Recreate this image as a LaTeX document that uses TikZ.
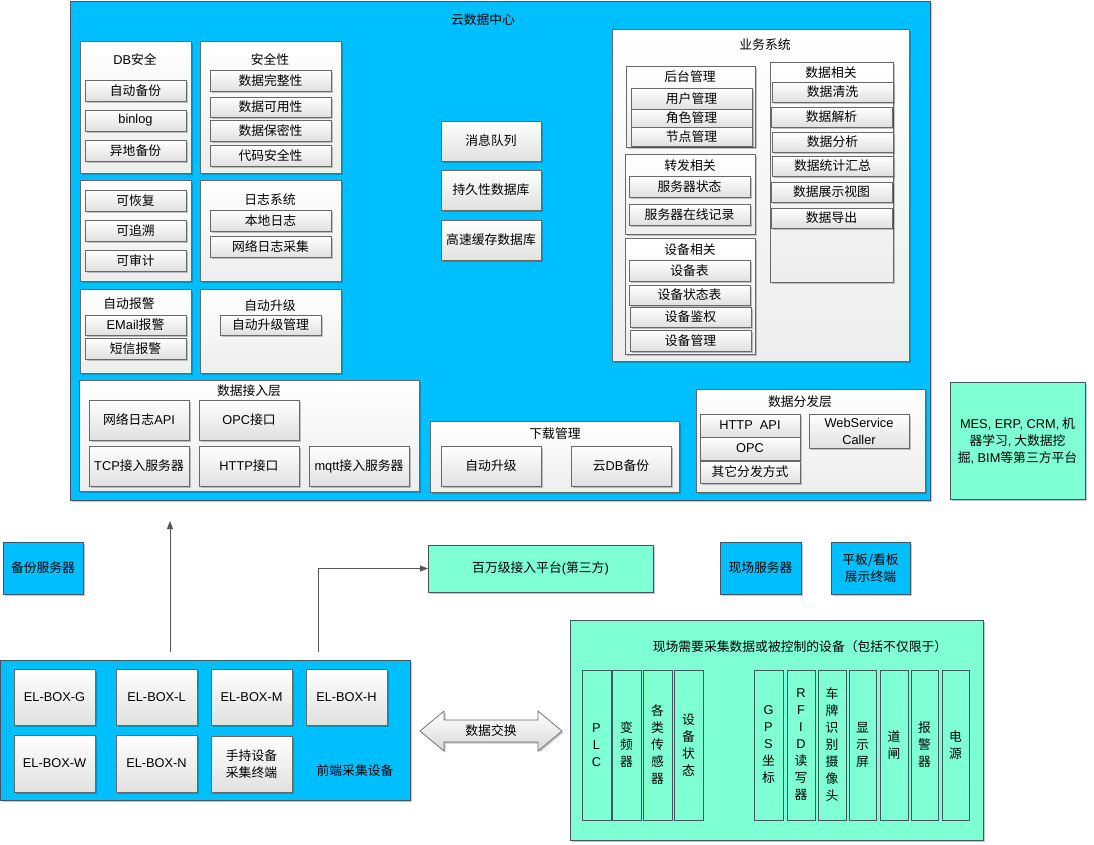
\documentclass[tikz,border=0pt]{standalone}
\usepackage{fontspec}
\setmainfont{Noto Sans CJK SC}
\newfontfamily\lat{Liberation Sans}
\usetikzlibrary{arrows.meta,shadows}
\definecolor{cloudblue}{RGB}{0,191,255}
\definecolor{aqua}{RGB}{127,255,212}
\definecolor{edge}{RGB}{65,85,100}
\definecolor{boxedge}{RGB}{105,105,105}
\definecolor{arrowgray}{RGB}{85,85,85}
\newcommand\bx[7][]{\node[#1, minimum width={(#5)-(#3)}, minimum height={(#6)-(#4)}] (#2) at ({((#3)+(#5))/2},{((#4)+(#6))/2}) {#7};}
\begin{document}
\begin{tikzpicture}[x=1pt,y=-1pt,
  font=\fontsize{12.8}{17}\selectfont,
  every node/.style={inner sep=0pt, outer sep=0pt, align=center},
  castshadow/.style={drop shadow={shadow xshift=1.5pt,shadow yshift=-1.5pt,opacity=0.22,fill=black}},
  cloudmain/.style={draw=edge, fill=cloudblue, line width=0.8pt, castshadow},
  cloudbox/.style={draw=edge, fill=cloudblue, line width=0.8pt, castshadow},
  panel/.style={draw=boxedge, top color=white, bottom color=black!7, line width=0.7pt, castshadow},
  item/.style={draw=boxedge, top color=white, bottom color=black!12, line width=0.7pt, castshadow},
  aquabox/.style={draw=edge, fill=aqua, line width=0.8pt, castshadow},
  devcol/.style={draw=edge, fill=aqua, line width=0.7pt},
  latin/.style={font={\fontsize{12.8}{17}\lat}},
  conn/.style={draw=arrowgray, line width=0.8pt, -{Triangle[length=8pt,width=6pt]}}]
\fill[white] (0,0) rectangle (1094,844);
\useasboundingbox (0,0) rectangle (1094,844);

% cloud data centre
\bx[cloudmain]{cloud}{70}{1}{930}{500}{}
\node (cloudt) at (483,20) {云数据中心};

\bx[panel]{dbsec}{80}{41}{191}{173}{}
\node (dbsect) at (135,60) {{\lat DB}安全};
\bx[item]{bak}{85}{80}{186}{101}{自动备份}
\bx[item,latin]{binlog}{85}{110}{186}{131}{binlog}
\bx[item]{remote}{85}{140}{186}{161}{异地备份}

\bx[panel]{secp}{200}{41}{341}{173}{}
\node (secpt) at (270,60) {安全性};
\bx[item]{s1}{210}{70}{331}{91}{数据完整性}
\bx[item]{s2}{210}{97}{331}{117}{数据可用性}
\bx[item]{s3}{210}{120}{331}{141}{数据保密性}
\bx[item]{s4}{210}{145}{331}{166}{代码安全性}

\bx[panel]{recp}{80}{180}{191}{281}{}
\bx[item]{r1}{85}{190}{186}{211}{可恢复}
\bx[item]{r2}{85}{220}{186}{241}{可追溯}
\bx[item]{r3}{85}{250}{186}{271}{可审计}

\bx[panel]{logp}{200}{180}{341}{281}{}
\node (logpt) at (270,200) {日志系统};
\bx[item]{l1}{210}{210}{331}{231}{本地日志}
\bx[item]{l2}{210}{236}{331}{257}{网络日志采集}

\bx[panel]{alp}{80}{289}{191}{373}{}
\node (alpt) at (129,304) {自动报警};
\bx[item]{a1}{85}{315}{186}{335}{{\lat EMail}报警}
\bx[item]{a2}{85}{338}{186}{359}{短信报警}

\bx[panel]{upp}{200}{289}{341}{373}{}
\node (uppt) at (270,306) {自动升级};
\bx[item]{u1}{220}{315}{321}{335}{自动升级管理}

\bx[item]{mq}{441}{121}{541}{161}{消息队列}
\bx[item]{pdb}{441}{170}{541}{210}{持久性数据库}
\bx[item]{cdb}{441}{220}{541}{260}{高速缓存数据库}

% business system
\bx[panel]{biz}{612}{29}{909}{361}{}
\node (bizt) at (765,45) {业务系统};
\bx[panel]{bk}{626}{66}{755}{147}{}
\node (bkt) at (690,77) {后台管理};
\bx[item]{b1}{631}{88}{752}{109}{用户管理}
\bx[item]{b2}{631}{109}{752}{127}{角色管理}
\bx[item]{b3}{631}{127}{752}{146}{节点管理}
\bx[panel]{fw}{625}{154}{755}{234}{}
\node (fwt) at (690,166) {转发相关};
\bx[item]{f1}{629}{176}{750}{197}{服务器状态}
\bx[item]{f2}{629}{204}{750}{225}{服务器在线记录}
\bx[panel]{dev}{625}{238}{755}{354}{}
\node (devt) at (690,250) {设备相关};
\bx[item]{d1}{629}{260}{750}{281}{设备表}
\bx[item]{d2}{629}{285}{750}{305}{设备状态表}
\bx[item]{d3}{630}{307}{751}{327}{设备鉴权}
\bx[item]{d4}{630}{330}{751}{351}{设备管理}
\bx[panel]{dat}{770}{62}{893}{282}{}
\node (datt) at (831,73) {数据相关};
\bx[item]{x1}{772}{82}{893}{102}{数据清洗}
\bx[item]{x2}{771}{107}{892}{127}{数据解析}
\bx[item]{x3}{772}{132}{893}{152}{数据分析}
\bx[item]{x4}{772}{156}{893}{176}{数据统计汇总}
\bx[item]{x5}{771}{182}{892}{202}{数据展示视图}
\bx[item]{x6}{771}{208}{892}{228}{数据导出}

% access layer
\bx[panel]{acc}{79}{380}{419}{491}{}
\node (acct) at (249,391) {数据接入层};
\bx[item]{ac1}{89}{400}{189}{440}{网络日志{\lat API}}
\bx[item]{ac2}{199}{400}{299}{440}{{\lat OPC}接口}
\bx[item]{ac3}{89}{446}{189}{486}{{\lat TCP}接入服务器}
\bx[item]{ac4}{199}{446}{299}{486}{{\lat HTTP}接口}
\bx[item]{ac5}{309}{446}{409}{486}{{\lat mqtt}接入服务器}

% download
\bx[panel]{dl}{430}{421}{679}{492}{}
\node (dlt) at (555,434) {下载管理};
\bx[item]{dl1}{441}{446}{541}{486}{自动升级}
\bx[item]{dl2}{571}{446}{671}{486}{云{\lat DB}备份}

% distribution
\bx[panel]{dist}{696}{389}{925}{492}{}
\node (distt) at (800,402) {数据分发层};
\bx[item,latin]{ds1}{700}{414}{800}{437}{HTTP\ \ API}
\bx[item,latin]{ds2}{700}{437}{800}{460}{OPC}
\bx[item]{ds3}{700}{461}{800}{483}{其它分发方式}
\bx[item,latin]{ds4}{809}{414}{909}{448}{WebService\\Caller}

% third party
\bx[aquabox]{mes}{950}{382}{1085}{499}{{\lat MES, ERP, CRM,} 机\\器学习{\lat ,} 大数据挖\\掘{\lat , BIM}等第三方平台}

% lower part
\bx[cloudbox]{bksrv}{3}{542}{83}{594}{备份服务器}
\bx[aquabox]{plat}{428}{545}{653}{592}{百万级接入平台{\lat (}第三方{\lat )}}
\bx[cloudbox]{site}{720}{542}{801}{594}{现场服务器}
\bx[cloudbox]{pad}{831}{542}{910}{594}{平板/看板\\展示终端}

\bx[cloudbox]{front}{0.5}{660}{410}{800}{}
\bx[item,latin]{g}{14}{669}{95}{725}{EL-BOX-G}
\bx[item,latin]{lbox}{116}{669}{197}{725}{EL-BOX-L}
\bx[item,latin]{m}{211}{669}{292}{725}{EL-BOX-M}
\bx[item,latin]{h}{306}{669}{387}{725}{EL-BOX-H}
\bx[item,latin]{w}{14}{735}{95}{792}{EL-BOX-W}
\bx[item,latin]{n}{116}{735}{197}{792}{EL-BOX-N}
\bx[item]{hand}{211}{736}{292}{792}{手持设备\\采集终端}
\node (frontt) at (355,771) {前端采集设备};

% field devices
\bx[aquabox]{devs}{570}{620}{983}{840}{}
\node (devst) at (800,647) {现场需要采集数据或被控制的设备（包括不仅限于）};
\bx[devcol,latin]{c1}{582}{670}{611}{820}{P\\L\\C}
\bx[devcol]{c2}{612}{670}{641}{820}{变\\频\\器}
\bx[devcol]{c3}{643}{670}{672}{820}{各\\类\\传\\感\\器}
\bx[devcol]{c4}{674}{670}{703}{820}{设\\备\\状\\态}
\bx[devcol]{c5}{754}{670}{783}{820}{{\lat G}\\{\lat P}\\{\lat S}\\坐\\标}
\bx[devcol]{c6}{787}{670}{815}{820}{{\lat R}\\{\lat F}\\{\lat I}\\{\lat D}\\读\\写\\器}
\bx[devcol]{c7}{818}{670}{846}{820}{车\\牌\\识\\别\\摄\\像\\头}
\bx[devcol]{c8}{849}{670}{876}{820}{显\\示\\屏}
\bx[devcol]{c9}{880}{670}{908}{820}{道\\闸}
\bx[devcol]{c10}{911}{670}{938}{820}{报\\警\\器}
\bx[devcol]{c11}{942}{670}{969}{820}{电\\源}

% data exchange double arrow
\draw[draw=boxedge, line width=0.7pt, top color=white, bottom color=black!15, castshadow]
  (420,731) -- (444,711) -- (444,720) -- (538,720) -- (538,711) -- (562,731)
  -- (538,751) -- (538,742) -- (444,742) -- (444,751) -- cycle;
\node (xchg) at (491,731) {数据交换};

% connectors
\coordinate (upS) at (170,652);
\coordinate (upE) at (170,521);
\draw[conn] (upS) -- (upE);
\coordinate (elS) at (318,652);
\draw[conn] (elS) |- (plat.west);
\end{tikzpicture}
\end{document}
